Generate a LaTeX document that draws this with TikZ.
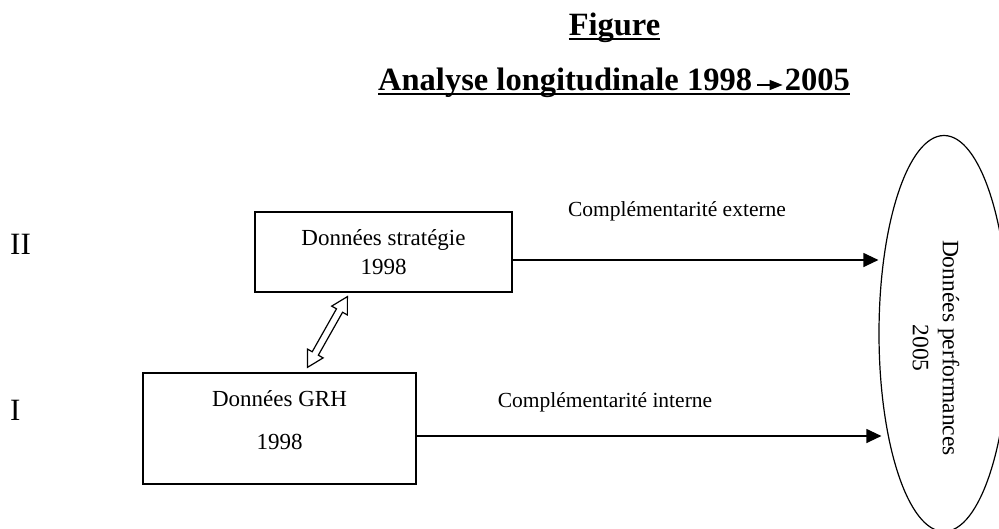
\documentclass[tikz,border=0pt]{standalone}
\usepackage{fontspec}
\setmainfont{Liberation Serif}
\usetikzlibrary{arrows.meta,calc,shapes.geometric}
\begin{document}
\begin{tikzpicture}[x=1pt,y=-1pt,
  boxst/.style={draw, line width=1.2pt, inner sep=0pt},
  txt/.style={font=\fontsize{23}{29}\selectfont, inner sep=0pt, anchor=base},
  lbl/.style={font=\fontsize{21.5}{26}\selectfont, inner sep=0pt, anchor=base},
  roman/.style={font=\fontsize{31}{36}\selectfont, inner sep=0pt, anchor=base west},
  ttl/.style={font=\bfseries\fontsize{32.5}{38}\selectfont, inner sep=0pt},
  conn/.style={line width=1.2pt, -{Triangle[length=15pt,width=14pt]}},
  uline/.style={line width=2.8pt}
]
\useasboundingbox (0,0) rectangle (999,528);

% title
\node[ttl, anchor=base] (fig) at (614.5,35) {Figure};
\draw[uline] ($(fig.base west)+(0,4)$) -- ($(fig.base east)+(0,4)$);
\node[ttl, anchor=base west] (t1) at (378,90) {Analyse longitudinale 1998};
\node[ttl, anchor=base east] (t2) at (850,90) {2005};
\draw[line width=1.3pt, -{Triangle[length=13pt,width=10pt]}] ($(t1.base east)+(5,-5)$) -- ($(t2.base west)+(-2,-5)$);
\draw[uline] ($(t1.base west)+(0,4)$) -- ($(t2.base east)+(0,4)$);

% level labels
\node[roman] (r2) at (10,254) {II};
\node[roman] (r1) at (10,420) {I};

% boxes
\node[boxst, minimum width=257, minimum height=80] (strat) at (383.5,252) {};
\node[txt] (strat1) at (383.5,245) {Données stratégie};
\node[txt] (strat2) at (383.5,274) {1998};

\node[boxst, minimum width=273, minimum height=111] (grh) at (279.5,428.5) {};
\node[txt] (grh1) at (279.5,406) {Données GRH};
\node[txt] (grh2) at (279.5,449) {1998};

% ellipse
\node[draw, ellipse, line width=1.2pt, minimum width=130, minimum height=396, inner sep=0pt] (perf) at (944,333.5) {};
\node[font=\fontsize{23.5}{30}\selectfont, align=center, rotate=-90, inner sep=0pt] (perft) at (936,348) {Données performances\\2005};

% connectors
\draw[conn] ([yshift=-8pt]strat.east) -- ([yshift=-8pt]strat.east -| perf.west);
\draw[conn] ([yshift=-7.5pt]grh.east) -- ($([yshift=-7.5pt]grh.east -| perf.west)+(3,0)$);
\node[lbl] (ext) at (677,216) {Complémentarité externe};
\node[lbl] (int) at (605,407) {Complémentarité interne};

% double hollow arrow
\coordinate (da) at ($(grh.north west)+(165,-5)$);
\coordinate (db) at ($(strat.south west)+(93,4)$);
\coordinate (ha) at ($(da)!16pt!(db)$);
\coordinate (hb) at ($(db)!16pt!(da)$);
\draw[line width=1.2pt, fill=white, line join=miter]
  (da) -- ($(ha)!9pt!90:(db)$) -- ($(ha)!3.5pt!90:(db)$) -- ($(hb)!3.5pt!-90:(da)$)
  -- ($(hb)!9pt!-90:(da)$) -- (db) -- ($(hb)!9pt!90:(da)$) -- ($(hb)!3.5pt!90:(da)$)
  -- ($(ha)!3.5pt!-90:(db)$) -- ($(ha)!9pt!-90:(db)$) -- cycle;
\end{tikzpicture}
\end{document}
